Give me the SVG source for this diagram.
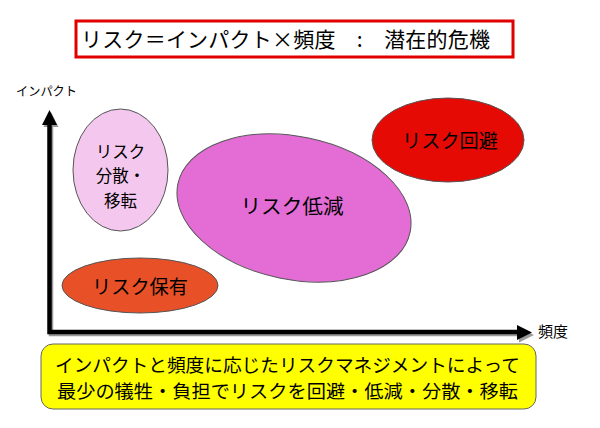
<svg xmlns="http://www.w3.org/2000/svg" width="600" height="428" viewBox="0 0 600 428">
<style>
text{font-family:"Noto Sans CJK JP","Noto Sans CJK SC",sans-serif;fill:#000;text-anchor:middle}
.el{stroke:#555;stroke-width:1}
.ax{fill:none;stroke:#000;stroke-width:4.5}
.axs{fill:none;stroke:#999;stroke-width:4.5}
</style>
<rect width="600" height="428" fill="#fff"/>
<g id="title">
<rect x="76" y="21" width="437" height="36" fill="#fff" stroke="#e00000" stroke-width="3"/>
<text x="285.5" y="46.5" font-size="21" textLength="409" lengthAdjust="spacing">リスク＝インパクト×頻度　:　潜在的危機</text>
</g>
<g id="axes">
<path class="axs" d="M51,126 V334 H518"/>
<polygon points="51,112 58.5,127 43.5,127" fill="#999"/>
<polygon points="534,335 519,327.5 519,342.5" fill="#999"/>
<path class="ax" d="M49.5,124 V332 H517"/>
<polygon points="49.5,110 57,125 42,125" fill="#000"/>
<polygon points="532,332.5 517,325 517,340" fill="#000"/>
<text x="46.5" y="95.7" font-size="12.5" textLength="61" lengthAdjust="spacingAndGlyphs">インパクト</text>
<text x="553" y="336.5" font-size="14.5" textLength="30" lengthAdjust="spacingAndGlyphs">頻度</text>
</g>
<g id="risk-transfer">
<ellipse class="el" cx="120.5" cy="170" rx="47.5" ry="61" fill="#f4c8ee"/>
<text font-size="16.5"><tspan x="120.5" y="158.3">リスク</tspan><tspan x="120.5" y="182.4">分散・</tspan><tspan x="120.5" y="206.5">移転</tspan></text>
</g>
<g id="risk-reduction">
<ellipse class="el" cx="294" cy="208" rx="118.6" ry="71.5" transform="rotate(11.7 294 208)" fill="#e36cd5"/>
<text x="292" y="213.6" font-size="20" textLength="103" lengthAdjust="spacingAndGlyphs">リスク低減</text>
</g>
<g id="risk-avoidance">
<ellipse class="el" cx="448" cy="140" rx="76" ry="42" fill="#e60a05"/>
<text x="450" y="147.5" font-size="19.5" textLength="96" lengthAdjust="spacingAndGlyphs">リスク回避</text>
</g>
<g id="risk-retention">
<ellipse class="el" cx="140" cy="285.5" rx="78" ry="27.5" fill="#e85028"/>
<text x="140" y="293.5" font-size="19.5" textLength="96" lengthAdjust="spacingAndGlyphs">リスク保有</text>
</g>
<g id="summary">
<rect x="41" y="344" width="495" height="65" rx="12" ry="12" fill="#ffff00" stroke="#666" stroke-width="1"/>
<text x="287.5" y="372" font-size="18.5" textLength="465" lengthAdjust="spacingAndGlyphs">インパクトと頻度に応じたリスクマネジメントによって</text>
<text x="287.5" y="397.5" font-size="18.5" textLength="461" lengthAdjust="spacingAndGlyphs">最少の犠牲・負担でリスクを回避・低減・分散・移転</text>
</g>
</svg>
